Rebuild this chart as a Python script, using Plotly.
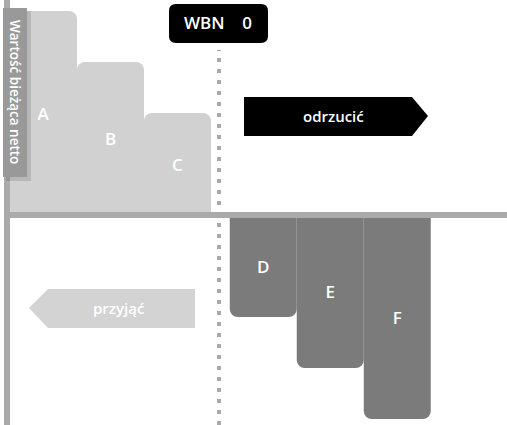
import plotly.graph_objects as go

# Projects and their net present value (WBN)
labels = ["A", "B", "C", "D", "E", "F"]
npv = [4, 3, 2, -2, -3, -4]
slots = [0, 1, 2, 3.28, 4.28, 5.28]

y_title = "Wartość bieżąca netto"
threshold_text = "WBN\u00a0\u00a0\u00a0\u00a00"
reject_text = "odrzucić"
accept_text = "przyjąć"

W, H = 507, 425
FONT = "Open Sans, Noto Sans, sans-serif"


def px(x, y):
    # pixel position -> paper coordinates
    return x / W, 1 - y / H


def path(points):
    pts = [px(x, y) for x, y in points]
    return "M " + " L ".join(f"{a:.4f},{b:.4f}" for a, b in pts) + " Z"


def rounded_box(x0, y0, x1, y1, r):
    a0, b0 = px(x0, y0)
    a1, b1 = px(x1, y1)
    rx, ry = r / W, r / H
    return (f"M {a0+rx},{b0} L {a1-rx},{b0} Q {a1},{b0} {a1},{b0-ry} "
            f"L {a1},{b1+ry} Q {a1},{b1} {a1-rx},{b1} L {a0+rx},{b1} "
            f"Q {a0},{b1} {a0},{b1+ry} L {a0},{b0-ry} Q {a0},{b0} {a0+rx},{b0} Z")


colors = ["#d1d1d1" if v > 0 else "#7b7b7b" for v in npv]

fig = go.Figure(go.Bar(
    x=slots, y=npv, width=1, text=labels,
    marker=dict(color=colors, line=dict(width=0), cornerradius=8),
    textposition="inside", insidetextanchor="middle", textangle=0,
    textfont=dict(family=FONT, size=17, color="white", weight=600),
    hoverinfo="skip",
))

shapes = [
    # left axis
    dict(type="line", xref="paper", yref="paper", x0=7 / W, x1=7 / W, y0=0, y1=1,
         line=dict(color="#aaaaaa", width=6)),
    # zero line
    dict(type="line", xref="paper", yref="y", x0=4 / W, x1=1, y0=0, y1=0,
         line=dict(color="#aaaaaa", width=6)),
    # WBN = 0 threshold
    dict(type="line", xref="paper", yref="paper", x0=219 / W, x1=219 / W, y0=0, y1=1 - 50 / H,
         line=dict(color="#aaaaaa", width=4, dash="4px,7px")),
    # y title box shadow + box
    dict(type="path", xref="paper", yref="paper", path=path([(6, 11), (31, 11), (31, 181), (6, 181)]),
         fillcolor="rgba(0,0,0,0.12)", line=dict(width=0)),
    dict(type="path", xref="paper", yref="paper", path=path([(3, 8), (27, 8), (27, 177), (3, 177)]),
         fillcolor="#999999", line=dict(width=0)),
    # WBN box
    dict(type="path", xref="paper", yref="paper", path=rounded_box(169, 4, 268, 43, 7),
         fillcolor="black", line=dict(width=0)),
    # reject arrow
    dict(type="path", xref="paper", yref="paper",
         path=path([(244, 97), (412, 97), (428, 116), (412, 136), (244, 136)]),
         fillcolor="black", line=dict(width=0)),
    # accept arrow
    dict(type="path", xref="paper", yref="paper",
         path=path([(195, 289), (48, 289), (29, 308), (48, 328), (195, 328)]),
         fillcolor="#d3d3d3", line=dict(width=0)),
]


def note(text, x, y, size, angle=0):
    a, b = px(x, y)
    return dict(text=text, x=a, y=b, xref="paper", yref="paper", showarrow=False,
                textangle=angle, xanchor="center", yanchor="middle",
                font=dict(family=FONT, size=size, color="white", weight=600))


annotations = [
    note(y_title, 15, 92, 13.5, 90),
    note(threshold_text, 218, 23, 17),
    note(reject_text, 333, 116, 15),
    note(accept_text, 118, 308, 15),
]

fig.update_layout(
    width=W, height=H, margin=dict(l=0, r=0, t=0, b=0),
    paper_bgcolor="white", plot_bgcolor="white", showlegend=False,
    xaxis=dict(range=[-10 / 67 - 0.5, 497 / 67 - 0.5], visible=False, fixedrange=True),
    yaxis=dict(range=[-210 / 51, 215 / 51], visible=False, fixedrange=True),
    shapes=shapes, annotations=annotations,
)

# the page's default body margin would push the figure off by 8px
fig.write_html("out.html", config={"displayModeBar": False},
               post_script="document.body.style.margin='0';")
